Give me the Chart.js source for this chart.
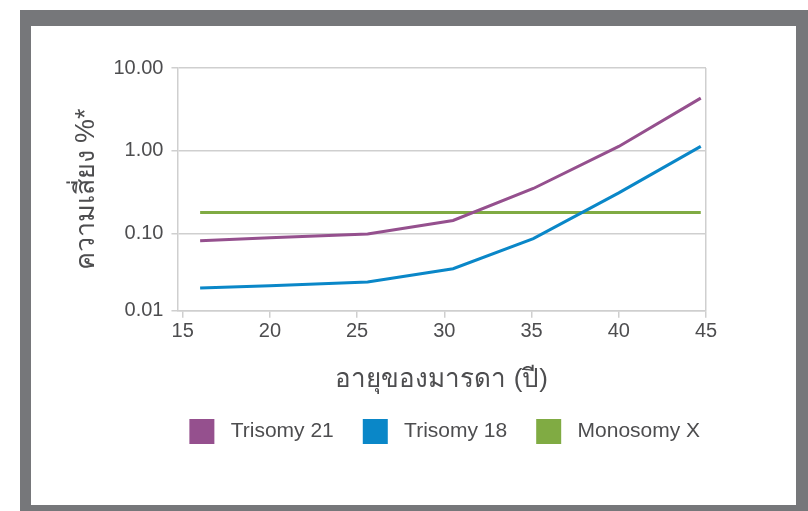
<!DOCTYPE html>
<html>
<head>
<meta charset="utf-8">
<script src="https://cdn.jsdelivr.net/npm/chart.js@4/dist/chart.umd.min.js"></script>
<style>
  html, body { margin: 0; padding: 0; background: #ffffff; }
  #wrap { position: relative; width: 808px; height: 511px; overflow: hidden; }
  #frame { position: absolute; left: 20px; top: 10px; width: 800px; height: 520px; background: #76777a; }
  #inner { position: absolute; left: 31px; top: 26px; width: 765px; height: 479px; background: #ffffff; }
  #c { position: absolute; left: 0; top: 0; }
</style>
</head>
<body>
<div id="wrap">
  <div id="frame"></div>
  <div id="inner"></div>
  <canvas id="c" width="808" height="511"></canvas>
</div>
<script>
// Maternal age (years)
const ages = [16, 20, 25.6, 30.5, 35.1, 40, 44.7];
// Risk in percent
const trisomy21 = [0.082, 0.089, 0.099, 0.144, 0.351, 1.13, 4.33];
const trisomy18 = [0.022, 0.0235, 0.026, 0.0377, 0.087, 0.311, 1.13];
const monosomyX = [0.18, 0.18, 0.18, 0.18, 0.18, 0.18, 0.18];
const seriesNames = ['Trisomy 21', 'Trisomy 18', 'Monosomy X'];
const xTickValues = [15, 20, 25, 30, 35, 40, 45];
const yTickValues = [0.0117, 0.1, 1, 10];
const xTitle = 'อายุของมารดา (ปี)';
const yTitle = 'ความเสี่ยง %*';

const colors = ['#95508e', '#0a87c8', '#80ab43'];
const FONT = "'Liberation Sans', Arial, sans-serif";
const TXT = '#4d4d4f';

function pts(vals) { return ages.map((a, i) => ({ x: a, y: vals[i] })); }

// Center the legend under the plot area instead of the whole canvas
const legendShift = {
  id: 'legendShift',
  afterLayout(chart) {
    const lg = chart.legend;
    if (!lg) return;
    const ca = chart.chartArea;
    const d = (ca.left + ca.right) / 2 + 3 - (lg.left + lg.right) / 2;
    lg.left += d;
    lg.right += d;
  }
};

new Chart(document.getElementById('c'), {
  type: 'scatter',
  data: {
    datasets: [trisomy21, trisomy18, monosomyX].map((v, i) => ({
      label: seriesNames[i],
      data: pts(v),
      showLine: true,
      borderColor: colors[i],
      backgroundColor: colors[i],
      borderWidth: 3,
      pointRadius: 0,
      pointHoverRadius: 0,
      tension: 0
    }))
  },
  plugins: [legendShift],
  options: {
    responsive: false,
    animation: false,
    events: [],
    layout: { padding: { left: 70, top: 68, right: 102, bottom: 57 } },
    plugins: {
      tooltip: { enabled: false },
      legend: {
        position: 'bottom',
        labels: {
          boxWidth: 25,
          boxHeight: 25,
          padding: 29,
          color: TXT,
          font: { family: FONT, size: 21 },
          generateLabels: (chart) => {
            const items = Chart.defaults.plugins.legend.labels.generateLabels(chart);
            items.forEach(it => { it.text = ' ' + it.text; it.lineWidth = 0; });
            return items;
          }
        }
      }
    },
    scales: {
      x: {
        type: 'linear',
        min: 14.7,
        max: 45,
        afterBuildTicks: (s) => { s.ticks = xTickValues.map(v => ({ value: v })); },
        ticks: { color: TXT, font: { family: FONT, size: 20 }, padding: 2, maxRotation: 0 },
        grid: {
          color: (ctx) => (ctx.tick && ctx.tick.value === 45) ? '#cfcfcf' : 'rgba(0,0,0,0)',
          tickColor: '#cfcfcf',
          tickLength: 7,
          lineWidth: 1.5
        },
        border: { color: '#cfcfcf', width: 1.5 },
        title: { display: true, text: xTitle, color: TXT, font: { family: FONT, size: 26 }, padding: { top: 18, bottom: -5 } }
      },
      y: {
        type: 'logarithmic',
        min: 0.0117,
        max: 10,
        afterBuildTicks: (s) => { s.ticks = yTickValues.map(v => ({ value: v })); },
        ticks: {
          color: TXT,
          font: { family: FONT, size: 20 },
          padding: 8,
          callback: (v) => Number(v).toFixed(2)
        },
        grid: { color: '#cfcfcf', tickColor: '#cfcfcf', tickLength: 6, lineWidth: 1.5 },
        border: { color: '#cfcfcf', width: 1.5 },
        title: { display: true, text: yTitle, color: TXT, font: { family: FONT, size: 27 }, padding: { top: 0, bottom: 3 } }
      }
    }
  }
});
</script>
</body>
</html>
